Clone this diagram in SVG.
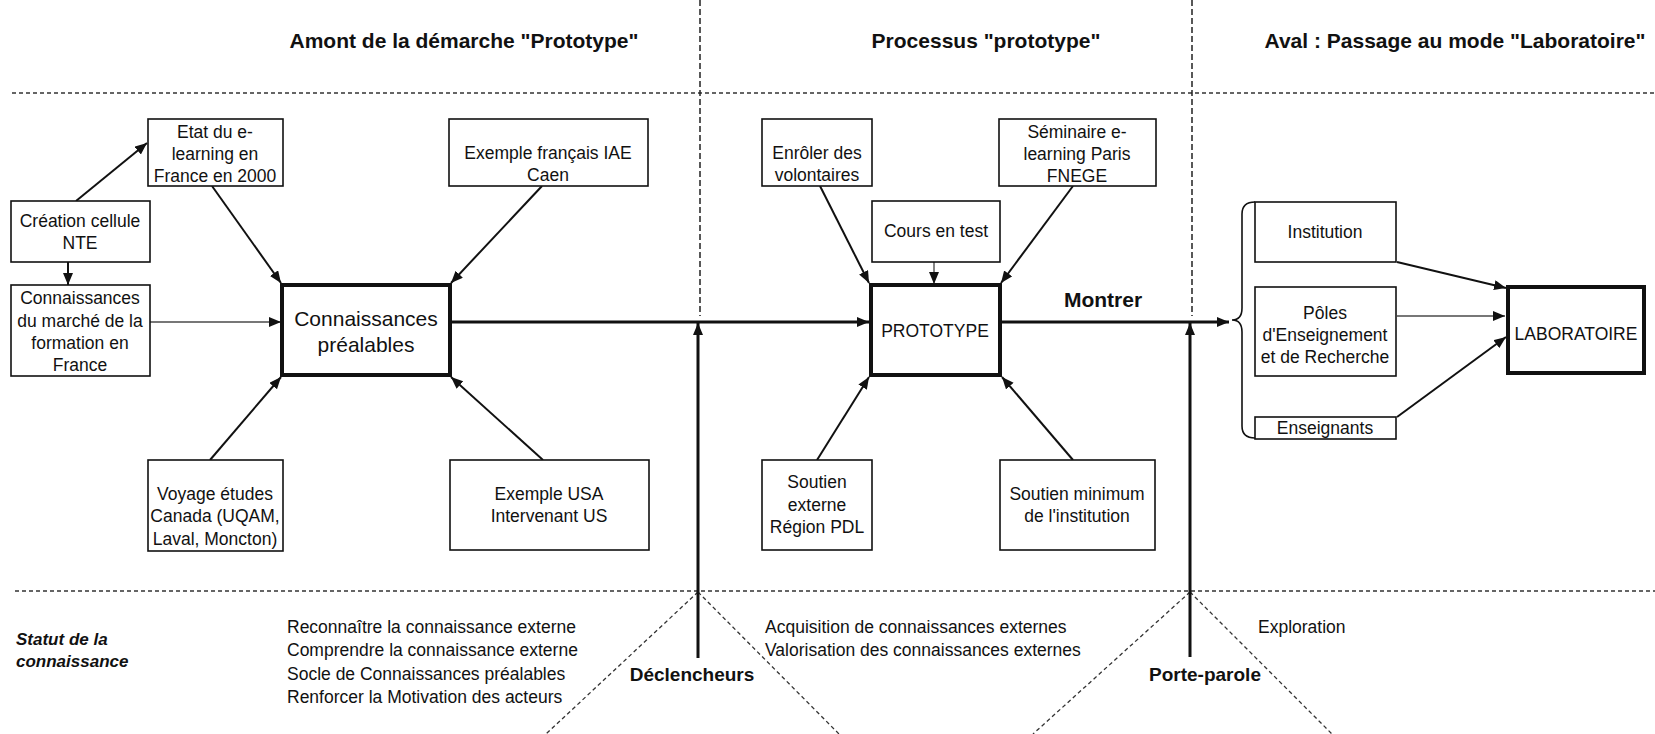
<svg xmlns="http://www.w3.org/2000/svg" width="1655" height="734" viewBox="0 0 1655 734">
  <style>
    text { font-family: "Liberation Sans", Arial, sans-serif; fill: #111; }
    .t { font-size: 17.5px; text-anchor: middle; }
    .big { font-size: 21px; text-anchor: middle; }
    .title { font-size: 21px; font-weight: bold; text-anchor: middle; }
    .lab { font-size: 19px; font-weight: bold; text-anchor: middle; }
    .note { font-size: 17.5px; }
    .box { fill: #fff; stroke: #111; stroke-width: 1.6; }
    .core { fill: #fff; stroke: #111; stroke-width: 4; }
    .arr { fill: none; stroke: #111; stroke-width: 2; marker-end: url(#ah); }
    .soft { fill: none; stroke: #777; stroke-width: 1.8; marker-end: url(#ah); }
    .main { fill: none; stroke: #111; stroke-width: 3; marker-end: url(#ah); }
    .line { fill: none; stroke: #111; stroke-width: 2; }
    .dash { fill: none; stroke: #333; stroke-width: 1.3; stroke-dasharray: 4 3; }
    .vdash { fill: none; stroke: #222; stroke-width: 1.5; stroke-dasharray: 6 3; }
  </style>
  <defs>
    <marker id="ah" markerUnits="userSpaceOnUse" markerWidth="13" markerHeight="11" refX="12" refY="5" orient="auto">
      <path d="M0,0 L12,5 L0,10 z" fill="#111"/>
    </marker>
  </defs>

  <rect width="1655" height="734" fill="#fff"/>

  <!-- section headers -->
  <g id="headers">
    <text class="title" x="464" y="48">Amont de la démarche "Prototype"</text>
    <text class="title" x="986" y="48">Processus "prototype"</text>
    <text class="title" x="1455" y="48">Aval : Passage au mode "Laboratoire"</text>
  </g>

  <!-- frame: separators between the phases -->
  <g id="frame">
    <line class="dash" x1="12" y1="93" x2="1655" y2="93"/>
    <line class="dash" x1="15" y1="591" x2="1655" y2="591"/>
    <line class="vdash" x1="700" y1="0" x2="700" y2="316"/>
    <line class="vdash" x1="1192" y1="0" x2="1192" y2="316"/>
    <line class="dash" x1="698" y1="592" x2="546" y2="734"/>
    <line class="dash" x1="698" y1="592" x2="839" y2="734"/>
    <line class="dash" x1="1190" y1="592" x2="1033" y2="734"/>
    <line class="dash" x1="1190" y1="592" x2="1332" y2="734"/>
  </g>

  <!-- connectors -->
  <g id="connectors">
    <line class="arr" x1="76" y1="201" x2="147" y2="143"/>
    <line class="arr" x1="68" y1="262" x2="68" y2="285"/>
    <line class="soft" x1="150" y1="322" x2="281" y2="322"/>
    <line class="arr" x1="212" y1="186" x2="281" y2="283"/>
    <line class="arr" x1="542" y1="186" x2="451" y2="283"/>
    <line class="arr" x1="210" y1="460" x2="281" y2="377"/>
    <line class="arr" x1="543" y1="460" x2="451" y2="377"/>
    <line class="main" x1="452" y1="322" x2="869" y2="322"/>
    <line class="arr" x1="820" y1="186" x2="869" y2="283"/>
    <line class="soft" x1="934" y1="262" x2="934" y2="284"/>
    <line class="arr" x1="1073" y1="186" x2="1001" y2="283"/>
    <line class="arr" x1="817" y1="460" x2="869" y2="377"/>
    <line class="arr" x1="1073" y1="460" x2="1002" y2="377"/>
    <line class="main" x1="1002" y1="322" x2="1229" y2="322"/>
    <line class="main" x1="698" y1="658" x2="698" y2="323"/>
    <line class="main" x1="1190" y1="657" x2="1190" y2="323"/>
    <line class="arr" x1="1397" y1="262" x2="1506" y2="288"/>
    <line class="soft" x1="1397" y1="316" x2="1505" y2="316"/>
    <line class="arr" x1="1397" y1="417" x2="1506" y2="337"/>
    <path class="line" d="M1255,202 Q1242,202 1242,214 L1242,308 Q1242,320 1232,320 Q1242,320 1242,332 L1242,426 Q1242,438 1255,438" style="stroke-width:1.6"/>
  </g>

  <!-- left column -->
  <g id="creation-nte">
    <rect class="box" x="11" y="201" width="139" height="61"/>
    <text class="t" x="80" y="227">Création cellule</text>
    <text class="t" x="80" y="249">NTE</text>
  </g>
  <g id="marche-formation">
    <rect class="box" x="11" y="285" width="139" height="91"/>
    <text class="t" x="80" y="304">Connaissances</text>
    <text class="t" x="80" y="327">du marché de la</text>
    <text class="t" x="80" y="349">formation en</text>
    <text class="t" x="80" y="371">France</text>
  </g>
  <g id="etat-elearning">
    <rect class="box" x="148" y="119" width="135" height="67"/>
    <text class="t" x="215" y="138">Etat du e-</text>
    <text class="t" x="215" y="160">learning en</text>
    <text class="t" x="215" y="182">France en 2000</text>
  </g>
  <g id="exemple-iae">
    <rect class="box" x="449" y="119" width="199" height="67"/>
    <text class="t" x="548" y="159">Exemple français IAE</text>
    <text class="t" x="548" y="181">Caen</text>
  </g>
  <g id="connaissances-prealables">
    <rect class="core" x="282" y="285" width="168" height="90"/>
    <text class="big" x="366" y="326">Connaissances</text>
    <text class="big" x="366" y="352">préalables</text>
  </g>
  <g id="voyage-canada">
    <rect class="box" x="148" y="460" width="135" height="91"/>
    <text class="t" x="215" y="500">Voyage études</text>
    <text class="t" x="215" y="522">Canada (UQAM,</text>
    <text class="t" x="215" y="545">Laval, Moncton)</text>
  </g>
  <g id="exemple-usa">
    <rect class="box" x="450" y="460" width="199" height="90"/>
    <text class="t" x="549" y="500">Exemple USA</text>
    <text class="t" x="549" y="522">Intervenant US</text>
  </g>

  <!-- prototype column -->
  <g id="enroler">
    <rect class="box" x="762" y="119" width="110" height="67"/>
    <text class="t" x="817" y="159">Enrôler des</text>
    <text class="t" x="817" y="181">volontaires</text>
  </g>
  <g id="cours-test">
    <rect class="box" x="872" y="201" width="128" height="61"/>
    <text class="t" x="936" y="237">Cours en test</text>
  </g>
  <g id="seminaire">
    <rect class="box" x="999" y="119" width="157" height="67"/>
    <text class="t" x="1077" y="138">Séminaire e-</text>
    <text class="t" x="1077" y="160">learning Paris</text>
    <text class="t" x="1077" y="182">FNEGE</text>
  </g>
  <g id="prototype">
    <rect class="core" x="871" y="285" width="129" height="90"/>
    <text class="t" x="935" y="337">PROTOTYPE</text>
  </g>
  <g id="soutien-externe">
    <rect class="box" x="762" y="460" width="110" height="90"/>
    <text class="t" x="817" y="488">Soutien</text>
    <text class="t" x="817" y="511">externe</text>
    <text class="t" x="817" y="533">Région PDL</text>
  </g>
  <g id="soutien-minimum">
    <rect class="box" x="1000" y="460" width="155" height="90"/>
    <text class="t" x="1077" y="500">Soutien minimum</text>
    <text class="t" x="1077" y="522">de l'institution</text>
  </g>

  <!-- laboratory column -->
  <g id="institution">
    <rect class="box" x="1255" y="202" width="141" height="60"/>
    <text class="t" x="1325" y="238">Institution</text>
  </g>
  <g id="poles">
    <rect class="box" x="1255" y="287" width="141" height="89"/>
    <text class="t" x="1325" y="319">Pôles</text>
    <text class="t" x="1325" y="341">d'Enseignement</text>
    <text class="t" x="1325" y="363">et de Recherche</text>
  </g>
  <g id="enseignants">
    <rect class="box" x="1255" y="417" width="141" height="22"/>
    <text class="t" x="1325" y="434">Enseignants</text>
  </g>
  <g id="laboratoire">
    <rect class="core" x="1508" y="287" width="136" height="86"/>
    <text class="t" x="1576" y="340">LABORATOIRE</text>
  </g>

  <!-- labels -->
  <g id="labels">
    <text class="lab" x="1103" y="307" style="font-size:21px">Montrer</text>
    <text class="lab" x="692" y="681">Déclencheurs</text>
    <text class="lab" x="1205" y="681">Porte-parole</text>
    <text x="16" y="645" style="font-size:17px;font-weight:bold;font-style:italic">Statut de la</text>
    <text x="16" y="667" style="font-size:17px;font-weight:bold;font-style:italic">connaissance</text>
    <text class="note" x="287" y="633">Reconnaître la connaissance externe</text>
    <text class="note" x="287" y="656">Comprendre la connaissance externe</text>
    <text class="note" x="287" y="680">Socle de Connaissances préalables</text>
    <text class="note" x="287" y="703">Renforcer la Motivation des acteurs</text>
    <text class="note" x="765" y="633">Acquisition de connaissances externes</text>
    <text class="note" x="765" y="656">Valorisation des connaissances externes</text>
    <text class="note" x="1258" y="633">Exploration</text>
  </g>
</svg>
